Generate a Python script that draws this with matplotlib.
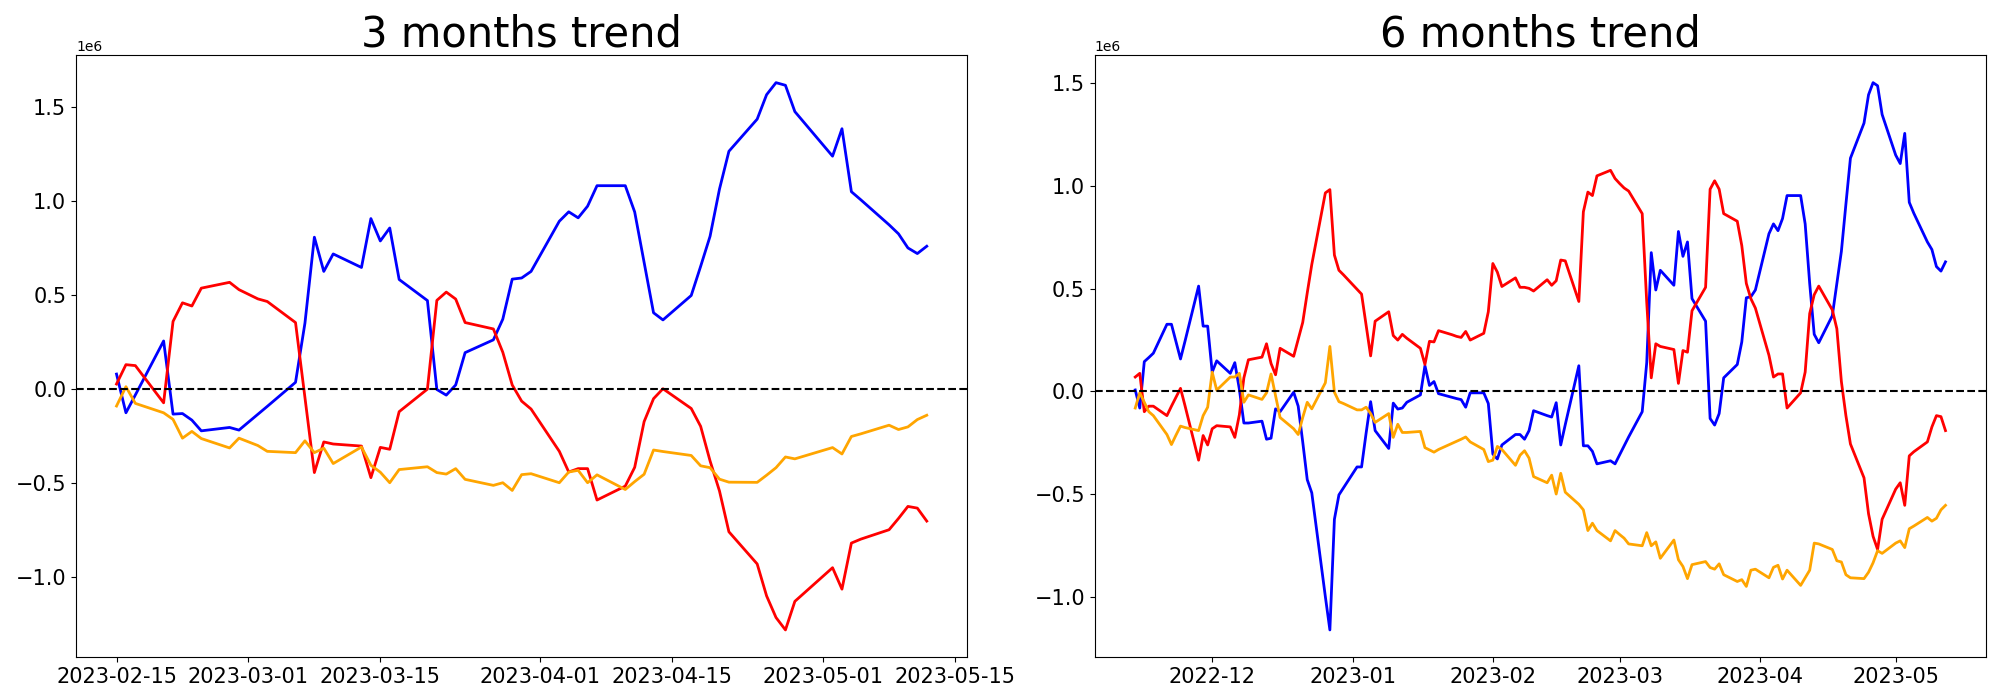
import numpy as np
import pandas as pd
import matplotlib
matplotlib.use('Agg')
import matplotlib.pyplot as plt

# 3 months window (trading days, values in 1e6)
dates_3m = ['2023-02-15', '2023-02-16', '2023-02-17', '2023-02-20', '2023-02-21', '2023-02-22',
            '2023-02-23', '2023-02-24', '2023-02-27', '2023-02-28', '2023-03-02', '2023-03-03',
            '2023-03-06', '2023-03-07', '2023-03-08', '2023-03-09', '2023-03-10', '2023-03-13',
            '2023-03-14', '2023-03-15', '2023-03-16', '2023-03-17', '2023-03-20', '2023-03-21',
            '2023-03-22', '2023-03-23', '2023-03-24', '2023-03-27', '2023-03-28', '2023-03-29',
            '2023-03-30', '2023-03-31', '2023-04-03', '2023-04-04', '2023-04-05', '2023-04-06',
            '2023-04-07', '2023-04-10', '2023-04-11', '2023-04-12', '2023-04-13', '2023-04-14',
            '2023-04-17', '2023-04-18', '2023-04-19', '2023-04-20', '2023-04-21', '2023-04-24',
            '2023-04-25', '2023-04-26', '2023-04-27', '2023-04-28', '2023-05-02', '2023-05-03',
            '2023-05-04', '2023-05-05', '2023-05-08', '2023-05-09', '2023-05-10', '2023-05-11',
            '2023-05-12']
blue_3m = [0.078, -0.128, -0.033, 0.254, -0.135, -0.132, -0.167, -0.224, -0.206, -0.22,
           -0.136, -0.094, 0.034, 0.349, 0.806, 0.624, 0.717, 0.645, 0.905, 0.786,
           0.855, 0.581, 0.469, -0.004, -0.034, 0.02, 0.192, 0.26, 0.37, 0.583,
           0.589, 0.624, 0.891, 0.941, 0.909, 0.971, 1.08, 1.08, 0.94, 0.672,
           0.404, 0.366, 0.496, 0.651, 0.811, 1.062, 1.263, 1.434, 1.564, 1.628,
           1.614, 1.474, 1.237, 1.383, 1.048, 1.005, 0.872, 0.824, 0.749, 0.719, 0.758]
red_3m = [0.025, 0.128, 0.123, -0.075, 0.358, 0.457, 0.44, 0.535, 0.566, 0.527,
          0.478, 0.464, 0.352, -0.047, -0.446, -0.283, -0.294, -0.305, -0.473, -0.312,
          -0.322, -0.122, -0.002, 0.47, 0.514, 0.477, 0.352, 0.318, 0.194, 0.02,
          -0.066, -0.108, -0.333, -0.443, -0.425, -0.425, -0.592, -0.518, -0.418, -0.175,
          -0.053, 0.0, -0.105, -0.2, -0.384, -0.544, -0.761, -0.932, -1.102, -1.217,
          -1.283, -1.131, -0.952, -1.066, -0.821, -0.80, -0.75, -0.69, -0.626, -0.635, -0.704]
orange_3m = [-0.092, 0.011, -0.078, -0.128, -0.163, -0.263, -0.227, -0.265, -0.315, -0.263,
             -0.302, -0.333, -0.34, -0.277, -0.34, -0.316, -0.398, -0.31, -0.407, -0.444,
             -0.5, -0.43, -0.415, -0.446, -0.454, -0.425, -0.482, -0.514, -0.5, -0.541,
             -0.457, -0.452, -0.5, -0.443, -0.434, -0.5, -0.458, -0.536, -0.494, -0.455,
             -0.326, -0.334, -0.355, -0.41, -0.42, -0.481, -0.497, -0.498, -0.46, -0.42,
             -0.363, -0.373, -0.313, -0.347, -0.254, -0.24, -0.194, -0.217, -0.203, -0.164, -0.141]

# 6 months window: every weekday 2022-11-14 .. 2023-05-12, one row per week
dates_6m = pd.bdate_range('2022-11-14', '2023-05-12')
blue_6m = [0.007, -0.081, 0.145, 0.165, 0.186,
           0.327, 0.327, 0.243, 0.158, 0.245,
           0.513, 0.318, 0.318, 0.094, 0.149,
           0.088, 0.14, 0.011, -0.154, -0.154,
           -0.145, -0.233, -0.228, -0.085, -0.099,
           -0.004, -0.072, -0.246, -0.43, -0.494,
           -1.0, -1.162, -0.623, -0.504, -0.47,
           -0.368, -0.368, -0.204, -0.05, -0.191,
           -0.278, -0.057, -0.086, -0.081, -0.053,
           -0.017, 0.125, 0.029, 0.048, -0.011,
           -0.029, -0.035, -0.04, -0.077, -0.007,
           -0.007, -0.059, -0.305, -0.329, -0.261,
           -0.21, -0.21, -0.233, -0.191, -0.094,
           -0.118, -0.125, -0.055, -0.261, -0.162,
           0.125, -0.265, -0.265, -0.292, -0.353,
           -0.338, -0.353, -0.309, -0.265, -0.222,
           -0.099, 0.14, 0.676, 0.494, 0.59,
           0.517, 0.779, 0.658, 0.728, 0.452,
           0.342, -0.132, -0.164, -0.108, 0.066,
           0.131, 0.241, 0.456, 0.461, 0.494,
           0.768, 0.816, 0.783, 0.842, 0.954,
           0.954, 0.816, 0.526, 0.278, 0.237,
           0.369, 0.526, 0.682, 0.912, 1.136,
           1.307, 1.445, 1.504, 1.489, 1.349,
           1.151, 1.11, 1.257, 0.921, 0.868,
           0.728, 0.691, 0.608, 0.586, 0.631]
red_6m = [0.07, 0.088, -0.099, -0.072, -0.072,
          -0.118, -0.072, -0.029, 0.015, -0.07,
          -0.335, -0.215, -0.261, -0.182, -0.167,
          -0.173, -0.224, -0.114, 0.066, 0.154,
          0.167, 0.232, 0.136, 0.081, 0.21,
          0.171, 0.254, 0.336, 0.48, 0.618,
          0.967, 0.983, 0.664, 0.59, 0.568,
          0.498, 0.474, 0.324, 0.173, 0.342,
          0.388, 0.272, 0.25, 0.278, 0.259,
          0.21, 0.131, 0.244, 0.241, 0.296,
          0.276, 0.268, 0.263, 0.292, 0.25,
          0.283, 0.388, 0.623, 0.581, 0.511,
          0.553, 0.507, 0.507, 0.502, 0.489,
          0.544, 0.517, 0.539, 0.64, 0.636,
          0.438, 0.875, 0.971, 0.954, 1.05,
          1.077, 1.037, 1.013, 0.991, 0.976,
          0.866, 0.434, 0.066, 0.232, 0.219,
          0.204, 0.039, 0.199, 0.191, 0.393,
          0.507, 0.985, 1.026, 0.985, 0.866,
          0.829, 0.71, 0.526, 0.452, 0.406,
          0.176, 0.07, 0.085, 0.085, -0.081,
          -0.007, 0.094, 0.379, 0.471, 0.513,
          0.397, 0.305, 0.048, -0.118, -0.256,
          -0.421, -0.596, -0.706, -0.77, -0.623,
          -0.476, -0.445, -0.555, -0.314, -0.294,
          -0.246, -0.173, -0.118, -0.123, -0.191]
orange_6m = [-0.081, -0.007, -0.053, -0.099, -0.118,
             -0.21, -0.259, -0.213, -0.169, -0.176,
             -0.191, -0.118, -0.077, 0.094, 0.006,
             0.07, 0.07, 0.088, -0.053, -0.017,
             -0.039, -0.007, 0.085, -0.022, -0.127,
             -0.182, -0.21, -0.127, -0.053, -0.085,
             0.042, 0.219, -0.004, -0.05, -0.059,
             -0.09, -0.09, -0.077, -0.108, -0.151,
             -0.108, -0.224, -0.16, -0.2, -0.2,
             -0.195, -0.274, -0.285, -0.296, -0.283,
             -0.253, -0.243, -0.233, -0.222, -0.246,
             -0.283, -0.342, -0.335, -0.268, -0.283,
             -0.36, -0.311, -0.289, -0.325, -0.415,
             -0.445, -0.408, -0.5, -0.399, -0.491,
             -0.55, -0.577, -0.678, -0.642, -0.678,
             -0.728, -0.678, -0.697, -0.715, -0.743,
             -0.752, -0.688, -0.752, -0.733, -0.813,
             -0.724, -0.82, -0.853, -0.912, -0.844,
             -0.829, -0.858, -0.866, -0.84, -0.893,
             -0.926, -0.917, -0.95, -0.871, -0.866,
             -0.908, -0.857, -0.847, -0.914, -0.871,
             -0.945, -0.908, -0.871, -0.739, -0.743,
             -0.77, -0.825, -0.831, -0.893, -0.908,
             -0.912, -0.881, -0.835, -0.776, -0.789,
             -0.739, -0.728, -0.761, -0.669, -0.656,
             -0.614, -0.632, -0.618, -0.577, -0.555]

fig, axes = plt.subplots(1, 2, figsize=(20, 7), dpi=100)
fig.subplots_adjust(left=0.038, right=0.993, bottom=0.061, top=0.921, wspace=0.143)

panels = [(pd.to_datetime(dates_3m), blue_3m, red_3m, orange_3m, '3 months trend'),
          (dates_6m, blue_6m, red_6m, orange_6m, '6 months trend')]

for ax, (x, b, r, o, title) in zip(axes, panels):
    ax.plot(x, np.array(b) * 1e6, color='blue', lw=2)
    ax.plot(x, np.array(r) * 1e6, color='red', lw=2)
    ax.plot(x, np.array(o) * 1e6, color='orange', lw=2)
    ax.axhline(0, color='black', linestyle='--', lw=1.5)
    ax.set_title(title, fontsize=30)
    ax.tick_params(labelsize=15)

fig.savefig('out.png', dpi=100)
